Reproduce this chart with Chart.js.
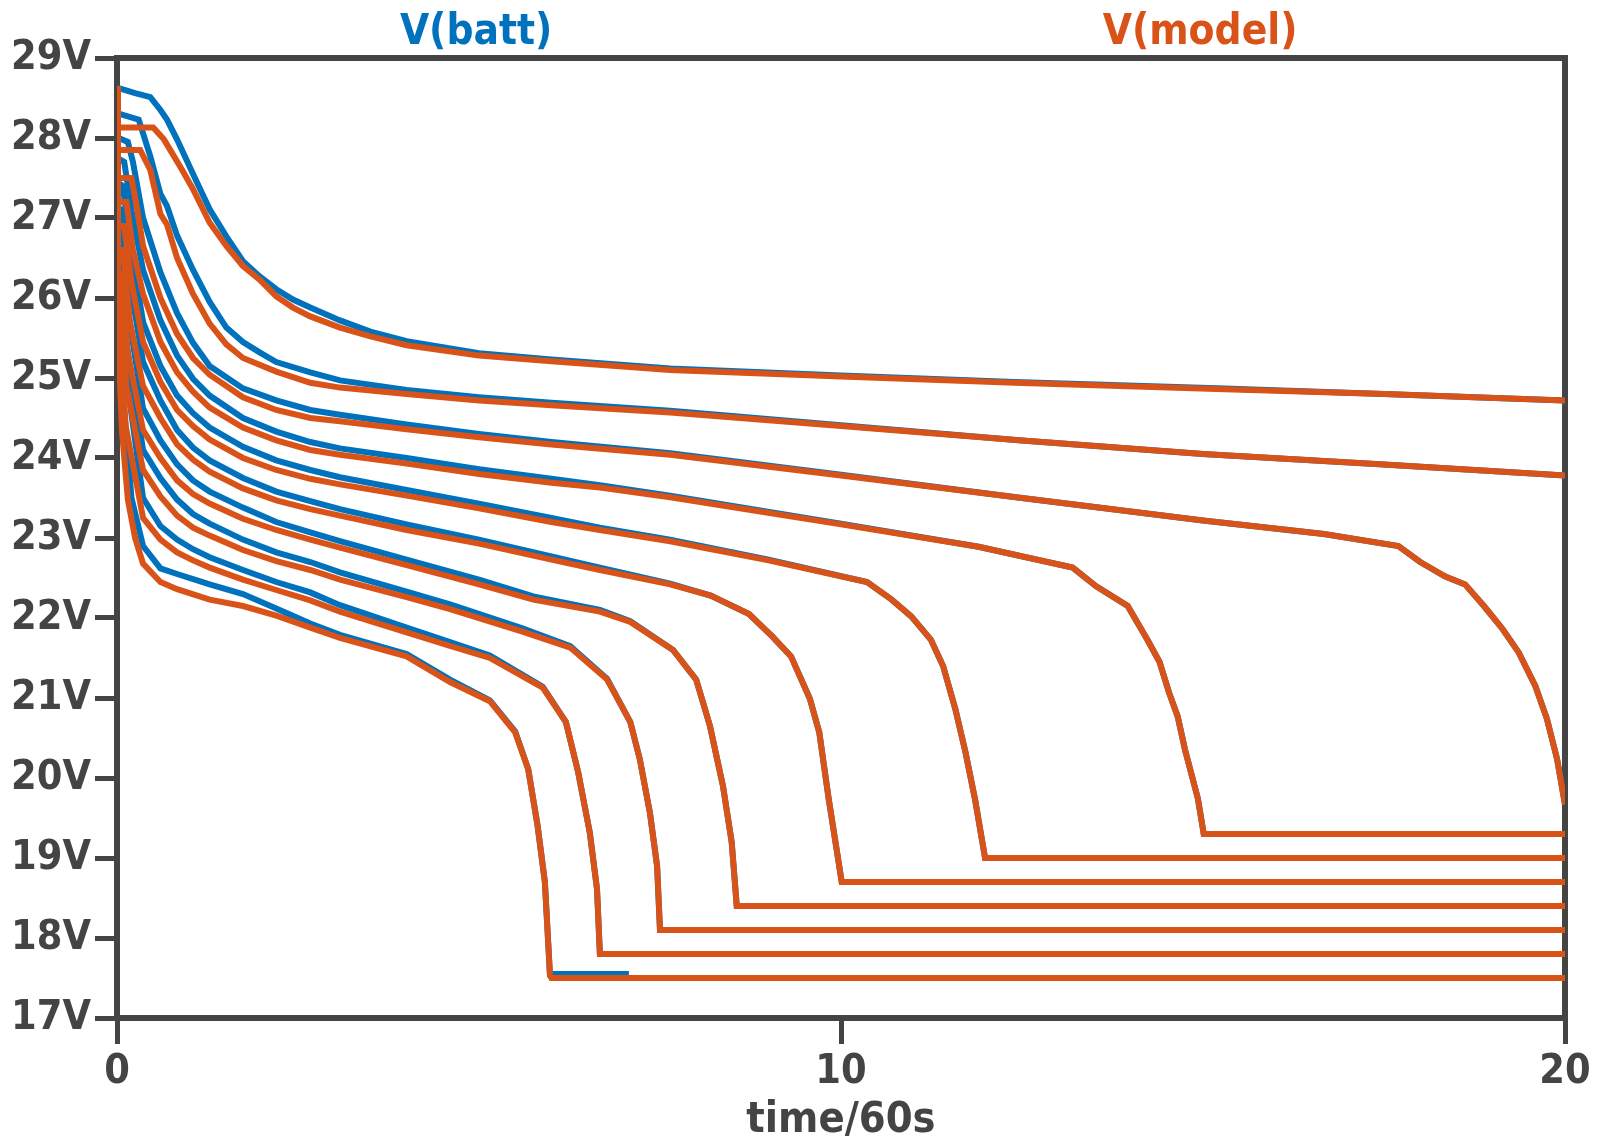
<!DOCTYPE html>
<html>
<head>
<meta charset="utf-8">
<script src="https://cdn.jsdelivr.net/npm/chart.js@4.4.1/dist/chart.umd.min.js"></script>
<style>
  html, body { margin: 0; padding: 0; background: #fff; }
</style>
</head>
<body>
<canvas id="chart" width="1597" height="1142"></canvas>
<script>
// time in minutes (time/60s), voltage in V
const yTicks = [17, 18, 19, 20, 21, 22, 23, 24, 25, 26, 27, 28, 29];
const xTicks = [0, 10, 20];
const seriesNames = ['V(batt)', 'V(model)'];

// V(model) runs, lightest load first
const modelRuns = [
  [[0,28.65],[0.01,28.13],[0.5,28.13],[0.65,27.98],[0.9,27.6],[1.05,27.36],[1.28,26.94],[1.51,26.65],[1.74,26.4],[1.97,26.23],[2.2,26.02],[2.43,25.88],[2.67,25.77],[3.08,25.63],[3.5,25.52],[4,25.41],[5,25.28],[6,25.21],[7.64,25.1],[10,25.02],[12.4,24.94],[15.3,24.86],[17.5,24.8],[20,24.72]],
  [[0,28.65],[0.01,27.85],[0.32,27.85],[0.46,27.6],[0.6,27.05],[0.69,26.92],[0.83,26.5],[1.05,26.05],[1.28,25.68],[1.51,25.42],[1.74,25.25],[2.2,25.08],[2.67,24.94],[3.08,24.88],[4,24.8],[5,24.72],[6,24.66],[7.64,24.57],[10,24.4],[12.5,24.22],[15,24.05],[17.5,23.92],[20,23.78]],
  [[0,28.65],[0.01,27.5],[0.2,27.5],[0.28,27.1],[0.36,26.65],[0.6,26.0],[0.83,25.55],[1.05,25.25],[1.28,25.04],[1.74,24.76],[2.2,24.6],[2.67,24.5],[3.08,24.46],[4,24.36],[5,24.26],[6,24.17],[7.64,24.04],[10,23.78],[12.5,23.5],[15,23.22],[16.67,23.05],[17.7,22.9],[18.0,22.7],[18.34,22.52],[18.62,22.42],[18.88,22.15],[19.14,21.86],[19.36,21.57],[19.59,21.15],[19.75,20.74],[19.89,20.24],[20,19.67]],
  [[0,28.65],[0.01,27.2],[0.13,27.2],[0.22,26.6],[0.36,26.05],[0.6,25.45],[0.83,25.07],[1.05,24.83],[1.28,24.63],[1.74,24.38],[2.2,24.22],[2.67,24.1],[3.08,24.04],[4,23.93],[5,23.8],[6,23.69],[6.67,23.63],[7.64,23.51],[10,23.17],[11.9,22.89],[13.2,22.63],[13.52,22.4],[13.96,22.15],[14.23,21.73],[14.4,21.45],[14.53,21.07],[14.65,20.77],[14.75,20.36],[14.93,19.74],[15.01,19.3],[20,19.3]],
  [[0,28.65],[0.01,26.9],[0.1,26.9],[0.2,26.2],[0.36,25.45],[0.6,24.95],[0.83,24.6],[1.05,24.4],[1.28,24.23],[1.74,24.0],[2.2,23.85],[2.67,23.74],[3.08,23.67],[4,23.53],[5,23.37],[6,23.2],[6.67,23.1],[7.64,22.96],[9,22.72],[10.36,22.45],[10.7,22.23],[10.97,22.02],[11.24,21.73],[11.41,21.4],[11.58,20.86],[11.72,20.32],[11.85,19.74],[11.99,19.0],[20,19.0]],
  [[0,28.65],[0.01,26.6],[0.08,26.6],[0.18,25.7],[0.36,24.9],[0.6,24.5],[0.83,24.17],[1.05,23.98],[1.28,23.83],[1.74,23.62],[2.2,23.47],[2.67,23.36],[3.08,23.28],[4,23.1],[5,22.93],[6,22.73],[6.67,22.6],[7.64,22.42],[8.2,22.28],[8.73,22.05],[9.05,21.77],[9.31,21.52],[9.57,20.99],[9.7,20.57],[9.83,19.74],[10.01,18.7],[20,18.7]],
  [[0,28.65],[0.01,26.3],[0.06,26.3],[0.15,25.3],[0.36,24.35],[0.6,24.0],[0.83,23.72],[1.05,23.55],[1.28,23.43],[1.74,23.24],[2.2,23.1],[2.67,22.98],[3.08,22.88],[4,22.66],[5,22.42],[5.75,22.23],[6.67,22.08],[7.09,21.95],[7.68,21.6],[8.0,21.23],[8.19,20.65],[8.37,19.9],[8.49,19.2],[8.56,18.4],[20,18.4]],
  [[0,28.65],[0.01,26.0],[0.05,26.0],[0.13,24.9],[0.36,23.85],[0.6,23.52],[0.83,23.28],[1.05,23.13],[1.28,23.03],[1.74,22.85],[2.2,22.71],[2.67,22.6],[3.08,22.48],[4,22.26],[4.6,22.11],[5.6,21.83],[6.26,21.63],[6.77,21.23],[7.09,20.7],[7.22,20.24],[7.36,19.57],[7.46,18.9],[7.5,18.1],[20,18.1]],
  [[0,28.65],[0.01,25.7],[0.03,25.7],[0.12,24.4],[0.36,23.25],[0.6,22.98],[0.83,22.82],[1.05,22.72],[1.28,22.63],[1.74,22.48],[2.2,22.35],[2.67,22.22],[3.08,22.08],[4,21.82],[4.6,21.65],[5.15,21.5],[5.88,21.13],[6.2,20.7],[6.37,20.07],[6.53,19.32],[6.63,18.61],[6.67,17.8],[20,17.8]],
  [[0,28.65],[0.01,25.4],[0.02,25.4],[0.07,24.32],[0.15,23.48],[0.25,23.0],[0.36,22.68],[0.6,22.45],[0.83,22.36],[1.28,22.23],[1.74,22.15],[2.2,22.03],[2.67,21.88],[3.08,21.75],[4,21.52],[4.6,21.2],[5.15,20.96],[5.5,20.57],[5.68,20.11],[5.81,19.4],[5.91,18.7],[5.98,17.53],[6.0,17.5],[20,17.5]]
];

// V(batt) runs, same order
const battRuns = [
  [[0,28.63],[0.25,28.56],[0.46,28.51],[0.6,28.35],[0.69,28.23],[0.83,27.98],[1.05,27.55],[1.28,27.11],[1.51,26.77],[1.74,26.46],[1.97,26.27],[2.2,26.11],[2.43,25.98],[2.67,25.88],[3.08,25.72],[3.5,25.58],[4,25.46],[5,25.31],[6,25.23],[7.64,25.12],[10,25.03],[12.4,24.95],[15.3,24.87],[17.5,24.8],[20,24.72]],
  [[0,28.31],[0.3,28.23],[0.46,27.77],[0.6,27.3],[0.69,27.15],[0.83,26.78],[1.05,26.35],[1.28,25.95],[1.51,25.63],[1.74,25.45],[1.97,25.32],[2.2,25.2],[2.67,25.07],[3.08,24.97],[4,24.85],[5,24.76],[6,24.69],[7.64,24.59],[10,24.41],[12.5,24.22],[15,24.05],[17.5,23.92],[20,23.78]],
  [[0,28.01],[0.15,27.95],[0.22,27.7],[0.36,27.0],[0.6,26.32],[0.83,25.81],[1.05,25.44],[1.28,25.15],[1.74,24.87],[2.2,24.72],[2.67,24.6],[3.08,24.54],[4,24.42],[5,24.3],[6,24.2],[7.64,24.06],[10,23.79],[12.5,23.5],[15,23.22],[16.67,23.05],[17.7,22.9],[18.0,22.7],[18.34,22.52],[18.62,22.42],[18.88,22.15],[19.14,21.86],[19.36,21.57],[19.59,21.15],[19.75,20.74],[19.89,20.24],[20,19.67]],
  [[0,27.75],[0.1,27.7],[0.2,27.1],[0.36,26.35],[0.6,25.72],[0.83,25.28],[1.05,24.99],[1.28,24.78],[1.74,24.5],[2.2,24.33],[2.67,24.2],[3.08,24.12],[4,24.0],[5,23.86],[6,23.74],[6.67,23.66],[7.64,23.53],[10,23.18],[11.9,22.89],[13.2,22.63],[13.52,22.4],[13.96,22.15],[14.23,21.73],[14.4,21.45],[14.53,21.07],[14.65,20.77],[14.75,20.36],[14.93,19.74],[15.01,19.3],[16,19.3]],
  [[0,27.45],[0.08,27.4],[0.18,26.7],[0.36,25.7],[0.6,25.15],[0.83,24.78],[1.05,24.56],[1.28,24.38],[1.74,24.14],[2.2,23.97],[2.67,23.85],[3.08,23.76],[4,23.6],[5,23.43],[6,23.25],[6.67,23.13],[7.64,22.98],[9,22.73],[10.36,22.45],[10.7,22.23],[10.97,22.02],[11.24,21.73],[11.41,21.4],[11.58,20.86],[11.72,20.32],[11.85,19.74],[11.99,19.0],[13,19.0]],
  [[0,27.15],[0.06,27.1],[0.16,26.3],[0.36,25.2],[0.6,24.72],[0.83,24.35],[1.05,24.13],[1.28,23.97],[1.74,23.75],[2.2,23.58],[2.67,23.46],[3.08,23.36],[4,23.17],[5,22.98],[6,22.77],[6.67,22.63],[7.64,22.43],[8.2,22.28],[8.73,22.05],[9.05,21.77],[9.31,21.52],[9.57,20.99],[9.7,20.57],[9.83,19.74],[10.01,18.7],[11,18.7]],
  [[0,26.85],[0.05,26.8],[0.14,25.9],[0.36,24.62],[0.6,24.22],[0.83,23.92],[1.05,23.72],[1.28,23.58],[1.74,23.38],[2.2,23.2],[2.67,23.07],[3.08,22.96],[4,22.73],[5,22.48],[5.75,22.27],[6.67,22.1],[7.09,21.96],[7.68,21.6],[8.0,21.23],[8.19,20.65],[8.37,19.9],[8.49,19.2],[8.56,18.4],[9.5,18.4]],
  [[0,26.55],[0.04,26.5],[0.12,25.5],[0.36,24.1],[0.6,23.75],[0.83,23.48],[1.05,23.3],[1.28,23.18],[1.74,22.98],[2.2,22.82],[2.67,22.7],[3.08,22.57],[4,22.33],[4.6,22.17],[5.6,21.87],[6.26,21.65],[6.77,21.24],[7.09,20.7],[7.22,20.24],[7.36,19.57],[7.46,18.9],[7.5,18.1],[8.3,18.1]],
  [[0,26.25],[0.03,26.2],[0.1,25.2],[0.36,23.5],[0.6,23.15],[0.83,22.98],[1.05,22.86],[1.28,22.76],[1.74,22.6],[2.2,22.45],[2.67,22.32],[3.08,22.16],[4,21.88],[4.6,21.7],[5.15,21.53],[5.88,21.14],[6.2,20.7],[6.37,20.07],[6.53,19.32],[6.63,18.61],[6.67,17.8],[7.4,17.8]],
  [[0,25.95],[0.02,25.9],[0.08,24.8],[0.2,23.5],[0.36,22.9],[0.6,22.62],[0.83,22.55],[1.28,22.42],[1.74,22.3],[2.2,22.12],[2.67,21.93],[3.08,21.79],[4,21.55],[4.6,21.23],[5.15,20.97],[5.5,20.58],[5.68,20.11],[5.81,19.4],[5.91,18.7],[5.98,17.55],[7.07,17.55]]
];

const BLUE = '#0072BD';
const ORANGE = '#D95319';
const GREY = '#444444';
const FONT = "'DejaVu Sans Condensed', 'DejaVu Sans', sans-serif";

Chart.defaults.font.family = FONT;
Chart.defaults.font.weight = 'bold';
Chart.defaults.font.size = 41;
Chart.defaults.color = GREY;

function toPoints(run) {
  return run.map(p => ({ x: p[0], y: p[1] }));
}

// first dataset is drawn on top, so model runs go first
const datasets = [];
modelRuns.forEach(run => datasets.push({
  label: seriesNames[1], data: toPoints(run), borderColor: ORANGE, borderWidth: 6
}));
battRuns.forEach(run => datasets.push({
  label: seriesNames[0], data: toPoints(run), borderColor: BLUE, borderWidth: 6
}));

// top and right edges of the plot box
const framePlugin = {
  id: 'frame',
  beforeDatasetsDraw(chart) {
    const a = chart.chartArea;
    const ctx = chart.ctx;
    ctx.save();
    ctx.strokeStyle = GREY;
    ctx.lineWidth = 6;
    ctx.beginPath();
    ctx.moveTo(a.left - 3, a.top);
    ctx.lineTo(a.right, a.top);
    ctx.lineTo(a.right, a.bottom + 3);
    ctx.stroke();
    ctx.restore();
  }
};

// trace names above the plot, like the simulator's header
const namesPlugin = {
  id: 'traceNames',
  afterDraw(chart) {
    const a = chart.chartArea;
    const ctx = chart.ctx;
    ctx.save();
    ctx.font = 'bold 42px ' + FONT;
    ctx.textAlign = 'center';
    ctx.textBaseline = 'middle';
    ctx.fillStyle = BLUE;
    ctx.fillText(seriesNames[0], a.left + (a.right - a.left) * 0.248, 33);
    ctx.fillStyle = ORANGE;
    ctx.fillText(seriesNames[1], a.left + (a.right - a.left) * 0.748, 33);
    ctx.restore();
  }
};

new Chart(document.getElementById('chart'), {
  type: 'line',
  data: { datasets },
  options: {
    responsive: false,
    animation: false,
    layout: { padding: { top: 58, right: 32, left: 0, bottom: 0 } },
    elements: {
      point: { radius: 0 },
      line: { tension: 0, borderJoinStyle: 'miter', fill: false }
    },
    plugins: {
      legend: { display: false },
      tooltip: { enabled: false }
    },
    scales: {
      x: {
        type: 'linear',
        min: 0,
        max: 20,
        afterBuildTicks: s => { s.ticks = xTicks.map(v => ({ value: v })); },
        afterFit: s => { s.height = 124; },
        ticks: { padding: 4, color: GREY, maxRotation: 0 },
        grid: { drawOnChartArea: false, drawTicks: true, tickLength: 26, tickWidth: 5, tickColor: GREY },
        border: { display: true, color: GREY, width: 6 },
        title: { display: true, text: 'time/60s', color: GREY, font: { size: 43, lineHeight: 1.0 }, padding: { top: 0, bottom: 0 } }
      },
      y: {
        type: 'linear',
        min: 17,
        max: 29,
        afterBuildTicks: s => { s.ticks = yTicks.map(v => ({ value: v })); },
        afterFit: s => { s.width = 117; },
        ticks: { padding: 4, color: GREY, callback: v => v + 'V' },
        grid: { drawOnChartArea: false, drawTicks: true, tickLength: 22, tickWidth: 5, tickColor: GREY },
        border: { display: true, color: GREY, width: 6 }
      }
    }
  },
  plugins: [framePlugin, namesPlugin]
});
</script>
</body>
</html>
